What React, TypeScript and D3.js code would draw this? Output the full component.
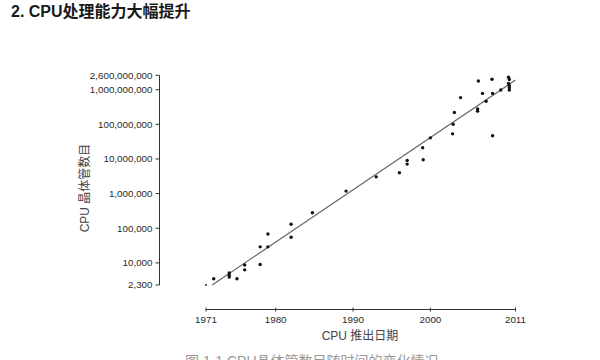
import React from "react";
import * as d3 from "d3";

const chartTitle = "2. CPU处理能力大幅提升";
const xAxisTitle = "CPU 推出日期";
const yAxisTitle = "CPU 晶体管数目";
const captionText = "图 1-1   CPU晶体管数目随时间的变化情况";

const xTickYears = [1971, 1980, 1990, 2000, 2011];
const yTickValues = [2300, 10000, 100000, 1000000, 10000000, 100000000, 1000000000, 2600000000];

const pointYears = [
  1971, 1972, 1974, 1974, 1974, 1975, 1976, 1976, 1978, 1978, 1979, 1979,
  1982, 1982, 1984.75, 1989.1, 1993, 1996, 1997, 1997, 1999, 1999.07, 2000,
  2002.87, 2002.95, 2003.1, 2003.9, 2006.1, 2006.1, 2006.2, 2006.74, 2007.2,
  2007.96, 2008.04, 2008.04, 2009.1, 2010.1, 2010.2, 2010.1, 2010.2, 2010.2, 2010.2,
];
const pointCounts = [
  2300, 3500, 5100, 4500, 3900, 3500, 8700, 6300, 9000, 29000, 68000, 29000,
  130000, 55000, 280000, 1180000, 3050000, 4000000, 7100000, 9100000, 21000000, 9500000, 40700000,
  53000000, 100000000, 220000000, 590000000, 280000000, 240000000, 1780000000, 780000000, 463000000,
  2000000000, 47000000, 780000000, 980000000, 2300000000, 1980000000, 1520000000, 1310000000, 1140000000, 980000000,
];

const trendYears = [1971.8, 2011];
const trendCounts = [2300, 1900000000];

const FONT = "'Liberation Sans', Arial, 'Noto Sans CJK SC', sans-serif";

export default function App() {
  const x = d3.scaleLinear().domain([1971, 2011]).range([206, 515.5]);
  const y = d3.scaleLog().domain([2300, 2600000000]).range([285, 75.3]);
  const fmt = d3.format(",");
  const line = d3
    .line<number>()
    .x((_, i) => x(trendYears[i]))
    .y((_, i) => y(trendCounts[i]));

  const yAxisX = 159.5;
  const xAxisY = 309.5;

  return (
    <svg
      width={600}
      height={360}
      style={{ position: "absolute", left: 0, top: 0, background: "#fff" }}
      fontFamily={FONT}
    >
      <rect x={0} y={0} width={600} height={360} fill="#fff" />
      <text x={11} y={17} fontSize={16} fontWeight="bold" fill="#1a1a1a">
        {chartTitle}
      </text>

      {/* Y axis */}
      <line x1={yAxisX} x2={yAxisX} y1={y(2600000000)} y2={y(2300)} stroke="#333" strokeWidth={1} />
      {yTickValues.map((v) => (
        <g key={v}>
          <line x1={yAxisX - 4} x2={yAxisX} y1={y(v)} y2={y(v)} stroke="#333" strokeWidth={1} />
          <text x={yAxisX - 7} y={y(v)} dy="0.35em" textAnchor="end" fontSize={9.8} fill="#2a2a2a">
            {fmt(v)}
          </text>
        </g>
      ))}
      <text
        transform={`translate(89, 188) rotate(-90)`}
        textAnchor="middle"
        fontSize={12}
        fill="#444"
      >
        {yAxisTitle}
      </text>

      {/* X axis */}
      <line x1={x(1971)} x2={x(2011)} y1={xAxisY} y2={xAxisY} stroke="#333" strokeWidth={1} />
      {xTickYears.map((t) => (
        <g key={t}>
          <line x1={x(t)} x2={x(t)} y1={xAxisY - 2} y2={xAxisY + 2} stroke="#333" strokeWidth={1} />
          <text x={x(t)} y={xAxisY + 13} textAnchor="middle" fontSize={9.8} fill="#2a2a2a">
            {t}
          </text>
        </g>
      ))}
      <text x={360} y={340} textAnchor="middle" fontSize={12} fill="#444">
        {xAxisTitle}
      </text>

      {/* trend line */}
      <path d={line(trendYears) || ""} fill="none" stroke="#666" strokeWidth={1.2} />

      {/* points */}
      {pointYears.map((yr, i) => (
        <circle key={i} cx={x(yr)} cy={y(pointCounts[i])} r={i === 0 ? 0.9 : 1.7} fill="#111" />
      ))}

      <text x={185} y={366} fontSize={14} fill="#999">
        {captionText}
      </text>
    </svg>
  );
}
